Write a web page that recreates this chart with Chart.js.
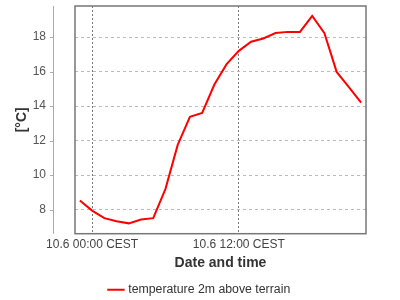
<!DOCTYPE html>
<html>
<head>
<meta charset="utf-8">
<script src="https://cdn.jsdelivr.net/npm/chart.js@4/dist/chart.umd.min.js"></script>
<style>
html,body{margin:0;padding:0;background:#fff;}
#wrap{width:400px;height:300px;}
</style>
</head>
<body>
<div id="wrap"><canvas id="c" width="400" height="300"></canvas></div>
<script>
// Hours relative to 10.6 00:00 CEST
const hours = [-1,0,1,2,3,4,5,6,7,8,9,10,11,12,13,14,15,16,17,18,19,20,21,22];
const temperature = [8.52,7.94,7.5,7.32,7.2,7.42,7.5,9.2,11.75,13.37,13.6,15.25,16.43,17.2,17.73,17.92,18.23,18.3,18.3,19.22,18.23,15.98,15.1,14.2];
const xTickValues = [0, 12];
const xTickLabels = ['10.6 00:00 CEST', '10.6 12:00 CEST'];
const yTickValues = [8, 10, 12, 14, 16, 18];
const seriesName = 'temperature 2m above terrain';

const FONT = 'Arial, "Liberation Sans", sans-serif';

const framePlugin = {
  id: 'frame',
  afterDraw(chart) {
    const ctx = chart.ctx;
    const a = chart.chartArea;
    const y = chart.scales.y;
    ctx.save();
    ctx.strokeStyle = '#777';
    ctx.lineWidth = 1.5;
    ctx.strokeRect(a.left, a.top, a.right - a.left, a.bottom - a.top);
    const ax = a.left - 22;
    ctx.strokeStyle = '#aaa';
    ctx.lineWidth = 1;
    ctx.beginPath();
    ctx.moveTo(ax + 0.5, a.top);
    ctx.lineTo(ax + 0.5, a.bottom);
    y.ticks.forEach(t => {
      const py = Math.round(y.getPixelForValue(t.value)) + 0.5;
      ctx.moveTo(ax - 3, py);
      ctx.lineTo(ax + 0.5, py);
    });
    ctx.stroke();
    ctx.restore();
  }
};

new Chart(document.getElementById('c'), {
  type: 'line',
  data: {
    datasets: [{
      label: seriesName,
      data: hours.map((h, i) => ({x: h, y: temperature[i]})),
      borderColor: '#ff0000',
      backgroundColor: '#ff0000',
      borderWidth: 2,
      pointRadius: 0,
      tension: 0,
      fill: false
    }]
  },
  options: {
    responsive: false,
    animation: false,
    layout: {padding: {top: 6, right: 0, left: 0, bottom: -6}},
    plugins: {
      legend: {
        position: 'bottom',
        labels: {
          usePointStyle: true,
          pointStyle: 'line',
          boxWidth: 15,
          padding: 5,
          color: '#333',
          font: {family: FONT, size: 12.3}
        }
      },
      tooltip: {enabled: false}
    },
    scales: {
      x: {
        type: 'linear',
        min: -1.4,
        max: 22.4,
        afterBuildTicks(scale) { scale.ticks = xTickValues.map(v => ({value: v})); },
        afterFit(scale) { scale.height = 45; scale.paddingLeft = 0; scale.paddingRight = 0; },
        ticks: {
          callback(v) { const i = xTickValues.indexOf(v); return i >= 0 ? xTickLabels[i] : ''; },
          color: '#444',
          padding: 4,
          maxRotation: 0,
          autoSkip: false,
          font: {family: FONT, size: 12}
        },
        grid: {
          color: '#777',
          drawTicks: false,
          lineWidth: 1
        },
        border: {display: false, dash: [2, 2]},
        title: {
          display: true,
          text: 'Date and time',
          color: '#333',
          font: {family: FONT, size: 14, weight: 'bold'},
          padding: {top: 0, bottom: 7}
        }
      },
      y: {
        type: 'linear',
        min: 6.6,
        max: 19.8,
        afterBuildTicks(scale) { scale.ticks = yTickValues.map(v => ({value: v})); },
        afterFit(scale) { scale.width = 75; scale.paddingTop = 0; scale.paddingBottom = 0; },
        ticks: {
          color: '#555',
          padding: 29,
          font: {family: FONT, size: 12}
        },
        grid: {
          color: '#bbb',
          drawTicks: false,
          lineWidth: 1
        },
        border: {display: false, dash: [3, 3]},
        title: {
          display: true,
          text: '[°C]',
          color: '#333',
          font: {family: FONT, size: 14, weight: 'bold'},
          padding: {top: 14, bottom: 0}
        }
      },
      yRight: {
        type: 'linear',
        position: 'right',
        min: 6.6,
        max: 19.8,
        afterFit(scale) { scale.width = 34; scale.paddingTop = 0; scale.paddingBottom = 0; },
        ticks: {display: false},
        grid: {display: false, drawTicks: false},
        border: {display: false}
      }
    }
  },
  plugins: [framePlugin]
});
</script>
</body>
</html>
